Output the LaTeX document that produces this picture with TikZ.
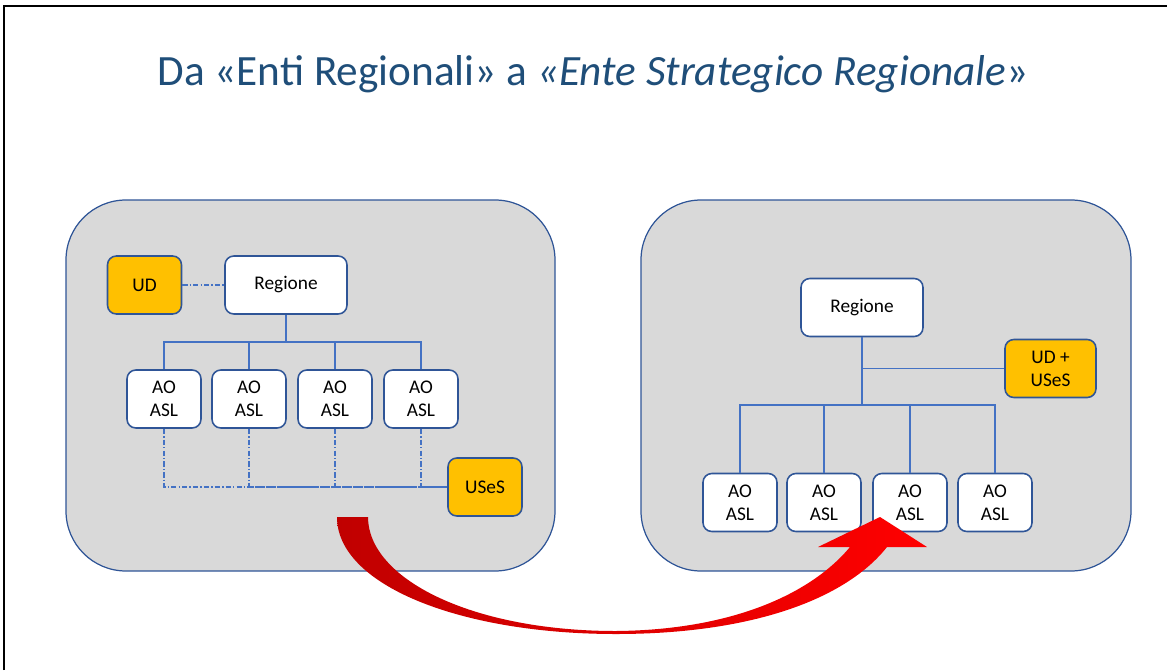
\documentclass[tikz,border=0pt]{standalone}
\usepackage{fontspec}
\setmainfont{Carlito}
\usetikzlibrary{positioning}
\definecolor{panelgray}{HTML}{D9D9D9}
\definecolor{udorange}{HTML}{FFC000}
\definecolor{edgeblue}{HTML}{2F5597}
\definecolor{linkblue}{HTML}{4472C4}
\definecolor{titleblue}{HTML}{1F4E79}
\definecolor{darkred}{HTML}{C00000}

\begin{document}
\begin{tikzpicture}[x=0.02cm,y=-0.02cm,
  box/.style={draw=edgeblue,line width=0.9pt,rounded corners=5pt,fill=white,minimum width=1.48cm,minimum height=1.16cm,align=center,font=\fontsize{11}{13}\selectfont,inner sep=1pt},
  org/.style={box,fill=udorange},
  panel/.style={draw=edgeblue,line width=0.7pt,fill=panelgray,rounded corners=1.2cm},
  tr/.style={draw=linkblue,line width=0.6pt},
  dd/.style={draw=linkblue,line width=0.6pt,dash pattern=on 3pt off 1.2pt on 0.8pt off 1.2pt}]
\useasboundingbox (0,0) rectangle (1167,670);
\draw[line width=1.4pt] (4,670) -- (4,6) -- (1167,6);
\node[anchor=base,text=titleblue,font=\fontsize{24.6}{29}\selectfont] (title) at (593,85)
  {Da «Enti Regionali» a \textit{«Ente Strategico Regionale}»};
% before
\draw[panel] (66,200) rectangle (555,571);
\node[org] (ud1) at (144.5,285) {UD};
\node[box,minimum width=2.44cm] (reg1) at (286,285) {Regione};
\node[box] (a1) at (164,399) {AO\\ASL};
\node[box] (a2) at (249,399) {AO\\ASL};
\node[box] (a3) at (335,399) {AO\\ASL};
\node[box] (a4) at (421,399) {AO\\ASL};
\node[org] (uses1) at (485,487) {USeS};
\coordinate (j1) at (286,342);
\draw[tr] (reg1.south) -- (j1);
\foreach \k in {a1,a2,a3,a4} \draw[tr] (j1) -| (\k.north);
\draw[dd] (ud1) -- (reg1);
\foreach \k in {a1,a2,a3,a4} \draw[dd] (\k.south) |- (uses1.west);
% after
\draw[panel] (641,200) rectangle (1131,571);
\node[box,minimum width=2.44cm] (reg2) at (862,307.5) {Regione};
\node[org,minimum width=1.82cm] (uds) at (1050.5,368.5) {UD +\\USeS};
\node[box] (b1) at (740,502.5) {AO\\ASL};
\node[box] (b2) at (824,502.5) {AO\\ASL};
\node[box] (b3) at (910,502.5) {AO\\ASL};
\node[box] (b4) at (995,502.5) {AO\\ASL};
\coordinate (j2) at (862,405);
\draw[tr,line width=1pt] (reg2.south) -- (j2);
\draw[tr] (reg2.south |- uds.west) -- (uds.west);
\foreach \k in {b1,b2,b3,b4} \draw[tr] (j2) -| (\k.north);
% passaggio
\shade[left color=darkred,right color=red]
  (337,517) .. controls (337,585) and (460,634) .. (616,634)
  .. controls (750,634) and (845,600) .. (887,547)
  -- (927,547) -- (880,517) -- (818,547) -- (850,547)
  .. controls (810,595) and (730,630) .. (616,631)
  .. controls (470,631) and (368,578) .. (368,517) -- cycle;
\end{tikzpicture}
\end{document}
